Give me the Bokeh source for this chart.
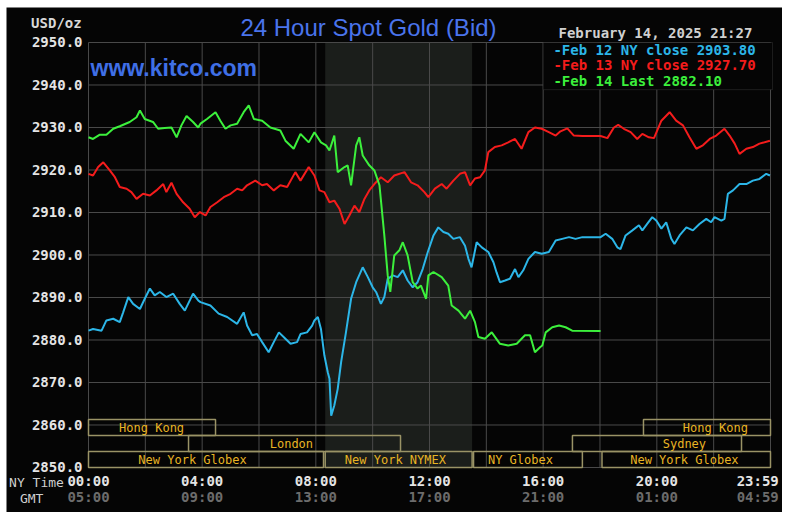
from bokeh.plotting import figure
from bokeh.models import (Range1d, FixedTicker, LinearAxis, PrintfTickFormatter,
                          BoxAnnotation, Label)
from bokeh.core.properties import value
from bokeh.embed import file_html
from bokeh.resources import INLINE

# ---------------- data ----------------
feb12_t = [0.00, 0.16, 0.46, 0.63, 0.87, 1.10, 1.22, 1.40, 1.57, 1.81, 1.98, 2.16, 2.33, 2.51, 2.74, 2.98,
           3.21, 3.39, 3.68, 3.86, 3.94, 4.29, 4.58, 4.88, 5.23, 5.46, 5.58, 5.76, 5.93, 6.11, 6.34, 6.52,
           6.70, 6.93, 7.11, 7.34, 7.46, 7.69, 7.87, 7.95, 8.07, 8.18, 8.30, 8.42, 8.48, 8.54, 8.65, 8.77,
           8.89, 9.06, 9.24, 9.42, 9.65, 9.83, 10.00, 10.12, 10.29, 10.41, 10.53, 10.71, 10.88, 11.06, 11.23,
           11.41, 11.58, 11.76, 11.94, 12.14, 12.31, 12.49, 12.66, 12.84, 13.07, 13.25, 13.37, 13.48, 13.66,
           13.84, 14.07, 14.25, 14.36, 14.48, 14.66, 14.83, 15.01, 15.13, 15.30, 15.48, 15.71, 15.95, 16.20,
           16.44, 16.67, 16.91, 17.14, 17.38, 18.02, 18.20, 18.43, 18.61, 18.72, 18.90, 19.14, 19.37, 19.49,
           19.66, 19.84, 19.98, 20.16, 20.33, 20.51, 20.62, 20.80, 21.04, 21.27, 21.50, 21.74, 21.91, 22.03,
           22.27, 22.38, 22.50, 22.68, 22.91, 23.15, 23.38, 23.61, 23.85, 23.98]
feb12_v = [2882.2, 2882.6, 2882.2, 2884.6, 2885.0, 2884.2, 2886.5, 2890.1, 2888.5, 2887.3, 2889.7, 2892.1,
           2890.5, 2891.3, 2890.1, 2890.9, 2888.5, 2886.9, 2890.9, 2889.3, 2888.9, 2888.1, 2886.2, 2885.4,
           2883.8, 2886.5, 2883.4, 2881.1, 2881.4, 2879.5, 2877.1, 2879.5, 2881.8, 2880.3, 2879.1, 2879.5,
           2881.4, 2881.8, 2883.4, 2884.6, 2885.4, 2882.6, 2876.4, 2872.4, 2870.9, 2862.2, 2864.6, 2868.5,
           2874.8, 2881.8, 2889.7, 2893.6, 2897.1, 2894.8, 2892.4, 2891.3, 2888.5, 2890.1, 2894.4, 2895.2,
           2894.8, 2896.4, 2894.0, 2892.4, 2893.6, 2896.7, 2900.7, 2904.6, 2906.5, 2905.4, 2905.0, 2903.8,
           2904.2, 2902.2, 2899.1, 2897.1, 2903.0, 2901.8, 2900.7, 2898.3, 2895.9, 2893.6, 2894.0, 2894.4,
           2896.7, 2894.8, 2896.4, 2899.1, 2900.7, 2900.3, 2900.7, 2903.4, 2903.8, 2904.2, 2903.8, 2904.2,
           2904.2, 2905.0, 2903.8, 2901.8, 2901.4, 2904.6, 2905.8, 2907.0, 2905.8, 2907.3, 2908.9, 2908.1,
           2906.2, 2907.7, 2903.8, 2902.6, 2904.6, 2906.5, 2905.8, 2907.3, 2908.5, 2907.7, 2908.9, 2908.1,
           2908.5, 2914.4, 2915.2, 2916.7, 2916.7, 2917.5, 2917.9, 2919.1, 2918.7]

feb13_t = [0.00, 0.16, 0.34, 0.52, 0.75, 0.93, 1.10, 1.34, 1.51, 1.69, 1.92, 2.16, 2.39, 2.63, 2.74, 2.92,
           3.10, 3.33, 3.56, 3.74, 3.92, 4.12, 4.29, 4.53, 4.76, 5.00, 5.23, 5.41, 5.58, 5.87, 6.11, 6.28,
           6.52, 6.75, 6.99, 7.28, 7.46, 7.75, 7.95, 8.13, 8.30, 8.48, 8.65, 8.83, 9.01, 9.18, 9.36, 9.53,
           9.71, 9.88, 10.06, 10.29, 10.53, 10.76, 11.12, 11.35, 11.58, 11.82, 11.96, 12.19, 12.43, 12.60,
           12.84, 13.07, 13.25, 13.43, 13.60, 13.78, 13.95, 14.07, 14.30, 14.54, 14.77, 15.01, 15.24, 15.48,
           15.71, 15.95, 16.20, 16.44, 16.61, 16.85, 17.08, 17.38, 18.02, 18.26, 18.49, 18.64, 18.84, 19.08,
           19.31, 19.49, 19.72, 19.90, 20.16, 20.45, 20.68, 20.92, 21.15, 21.39, 21.62, 21.86, 22.09, 22.38,
           22.56, 22.74, 22.91, 23.15, 23.38, 23.61, 23.98]
feb13_v = [2919.1, 2918.7, 2920.7, 2921.8, 2919.9, 2918.3, 2916.0, 2915.6, 2914.8, 2913.2, 2914.4, 2914.0,
           2915.2, 2916.7, 2914.8, 2917.0, 2914.4, 2912.4, 2910.9, 2908.9, 2910.1, 2909.3, 2911.3, 2912.4,
           2913.6, 2914.4, 2915.6, 2915.2, 2916.4, 2917.5, 2916.4, 2916.7, 2915.2, 2916.4, 2916.0, 2919.5,
           2917.5, 2920.7, 2918.7, 2915.2, 2914.8, 2912.4, 2912.8, 2910.9, 2907.3, 2909.3, 2911.6, 2910.1,
           2913.2, 2915.2, 2916.7, 2918.3, 2917.1, 2918.7, 2919.5, 2917.1, 2916.4, 2914.8, 2913.6, 2915.6,
           2916.7, 2915.6, 2917.5, 2919.1, 2919.5, 2916.4, 2918.0, 2918.3, 2919.9, 2924.2, 2925.4, 2925.8,
           2926.5, 2927.3, 2925.0, 2928.9, 2930.0, 2929.7, 2928.9, 2928.1, 2929.1, 2929.8, 2928.1, 2928.0,
           2928.0, 2927.5, 2930.0, 2930.6, 2929.7, 2928.9, 2927.3, 2928.5, 2927.7, 2927.5, 2931.6, 2933.6,
           2931.6, 2930.5, 2927.7, 2925.0, 2925.8, 2927.3, 2928.1, 2929.7, 2928.1, 2926.2, 2923.8, 2925.0,
           2925.4, 2926.2, 2926.9]

feb14_t = [0.00, 0.16, 0.40, 0.63, 0.87, 1.10, 1.45, 1.69, 1.81, 1.98, 2.27, 2.45, 2.68, 2.92, 3.10, 3.27,
           3.45, 3.68, 3.86, 3.94, 4.17, 4.47, 4.64, 4.82, 5.00, 5.23, 5.46, 5.64, 5.82, 6.11, 6.40, 6.75,
           6.93, 7.22, 7.46, 7.75, 7.95, 8.18, 8.36, 8.48, 8.65, 8.77, 9.01, 9.12, 9.24, 9.42, 9.53, 9.65,
           9.88, 10.06, 10.24, 10.41, 10.53, 10.62, 10.76, 10.94, 11.06, 11.23, 11.41, 11.58, 11.70, 11.88,
           11.96, 12.14, 12.43, 12.66, 12.78, 13.02, 13.25, 13.43, 13.60, 13.72, 13.95, 14.19, 14.48, 14.77,
           15.07, 15.36, 15.54, 15.71, 15.89, 15.97, 16.09, 16.32, 16.56, 16.79, 17.02, 18.02]
feb14_v = [2927.7, 2927.3, 2928.3, 2928.3, 2929.7, 2930.3, 2931.3, 2932.4, 2934.0, 2932.0, 2931.3, 2929.7,
           2929.9, 2930.0, 2927.7, 2930.5, 2932.7, 2931.3, 2930.0, 2930.9, 2932.0, 2933.6, 2931.6, 2929.7,
           2930.5, 2930.9, 2933.6, 2935.2, 2932.0, 2931.6, 2930.0, 2929.3, 2926.9, 2925.0, 2928.5, 2926.5,
           2928.9, 2926.5, 2925.8, 2924.6, 2928.1, 2919.5, 2920.7, 2921.1, 2916.4, 2925.8, 2927.7, 2923.4,
           2921.1, 2919.9, 2916.4, 2904.6, 2895.2, 2891.3, 2899.9, 2901.1, 2903.0, 2899.9, 2893.6, 2892.1,
           2892.8, 2889.7, 2895.2, 2896.0, 2894.8, 2892.8, 2888.1, 2886.9, 2885.0, 2886.9, 2884.2, 2880.7,
           2880.3, 2881.8, 2879.1, 2878.7, 2879.1, 2881.1, 2881.1, 2877.1, 2878.3, 2878.7, 2881.8, 2883.0,
           2883.4, 2883.0, 2882.2, 2882.1]

series_labels = ["-Feb 12 NY close 2903.80", "-Feb 13 NY close 2927.70", "-Feb 14 Last 2882.10"]
series_colors = ["#2cb6e8", "#f41c1c", "#3cf03c"]

ny_ticks = [0, 4, 8, 12, 16, 20, 23.55]
ny_labels = ["00:00", "04:00", "08:00", "12:00", "16:00", "20:00", "23:59"]
gmt_labels = ["05:00", "09:00", "13:00", "17:00", "21:00", "01:00", "04:59"]
x_grid = list(range(0, 25, 2))
y_ticks = [2850, 2860, 2870, 2880, 2890, 2900, 2910, 2920, 2930, 2940, 2950]

# sessions: name, start hour, end hour, row (1 = top), label centre hour
sess_names = ["Hong Kong", "Hong Kong", "London", "Sydney", "New York Globex", "New York NYMEX",
              "NY Globex", "New York Globex"]
sess_start = [0.0, 19.53, 3.52, 17.03, 0.0, 8.33, 13.55, 18.07]
sess_end = [4.47, 24.0, 10.98, 22.98, 8.27, 13.5, 17.38, 24.0]
sess_row = [1, 1, 2, 2, 3, 3, 3, 3]
sess_label_x = [2.22, 22.06, 7.14, 20.97, 3.66, 10.8, 15.2, 20.97]
nymex_open, nymex_close = 8.33, 13.5

# ---------------- figure ----------------
BG = "#050505"
GRID = "#4a4a4a"
MONO = "DejaVu Sans Mono"
X0, X1 = 0, 24
Y0, Y1 = 2850, 2950

# frame is the whole black panel; data area (0-24 h, 2850-2950) sits inside it
p = figure(width=782, height=512,
           x_range=Range1d(-2.8856, 24.4223), y_range=Range1d(2839.41, 2958.235),
           output_backend="svg", toolbar_location=None,
           min_border_left=6, min_border_right=0, min_border_top=7, min_border_bottom=0,
           background_fill_color=BG, border_fill_color="white", outline_line_color=None)
p.xgrid.visible = False
p.ygrid.visible = False

# y axis
ya = p.yaxis[0]
ya.fixed_location = X0
ya.ticker = FixedTicker(ticks=y_ticks)
ya.formatter = PrintfTickFormatter(format="%.1f")
ya.major_label_standoff = 6
ya.major_label_text_color = "#e4e4e4"

# x axes (NY time, then GMT)
xa = p.xaxis[0]
xa.fixed_location = Y0
xa.ticker = FixedTicker(ticks=ny_ticks)
xa.major_label_overrides = {t: s for t, s in zip(ny_ticks, ny_labels)}
xa.major_label_standoff = 6
xa.major_label_text_color = "#e4e4e4"
gmt = LinearAxis(ticker=FixedTicker(ticks=ny_ticks), fixed_location=Y0,
                 major_label_overrides={t: s for t, s in zip(ny_ticks, gmt_labels)},
                 major_label_standoff=22, major_label_text_color="#6c6c6c")
p.add_layout(gmt, "below")
for ax in (ya, xa, gmt):
    ax.axis_line_color = None
    ax.major_tick_line_color = None
    ax.minor_tick_line_color = None
    ax.major_tick_out = 0
    ax.minor_tick_out = 0
    ax.major_tick_in = 0
    ax.minor_tick_in = 0
    ax.major_label_text_font = MONO
    ax.major_label_text_font_style = "bold"
    ax.major_label_text_font_size = "14px"

# NYMEX shaded period
p.add_layout(BoxAnnotation(left=nymex_open, right=nymex_close, bottom=Y0, top=Y1,
                           fill_color="#1b1e1b", fill_alpha=1, line_color=None, level="image"))

# grid lines within the data area
p.segment(x0=x_grid, x1=x_grid, y0=[Y0] * len(x_grid), y1=[Y1] * len(x_grid),
          line_color=GRID, line_width=1)
p.segment(x0=[X0] * len(y_ticks), x1=[X1] * len(y_ticks), y0=y_ticks, y1=y_ticks,
          line_color=GRID, line_width=1)

# session boxes
row_h = 3.76
tops = [Y0 + (4 - r) * row_h for r in sess_row]
bots = [t - row_h for t in tops]
p.quad(left=sess_start, right=sess_end, top=tops, bottom=bots, fill_alpha=0,
       line_color="#9a9366", line_width=1.5)
p.text(x=sess_label_x, y=[(t + b) / 2 for t, b in zip(tops, bots)], text=sess_names,
       text_font=value(MONO), text_font_size="12px", text_color="#e8b424",
       text_align="center", text_baseline="middle")

# price lines
for t, v, c in ((feb12_t, feb12_v, series_colors[0]), (feb13_t, feb13_v, series_colors[1]),
                (feb14_t, feb14_v, series_colors[2])):
    p.line(t, v, line_color=c, line_width=2)

# legend box
p.add_layout(BoxAnnotation(left=16.0, right=24.07, top=Y1, bottom=2938.9, fill_color=BG, fill_alpha=1,
                           line_color="#5a5a5a", line_width=1, level="overlay"))
for i, (lab, c) in enumerate(zip(series_labels, series_colors)):
    p.add_layout(Label(x=16.36, y=2948.35 - i * 3.65, text=lab, text_color=c, text_font=MONO,
                       text_font_style="bold", text_font_size="14px", text_baseline="middle",
                       level="overlay"))

# other texts
def lbl(x, y, text, color, size="14px", font=MONO, style="bold", align="left"):
    p.add_layout(Label(x=x, y=y, text=text, text_color=color, text_font=font, text_font_size=size,
                       text_font_style=style, text_align=align, text_baseline="middle",
                       level="overlay"))

lbl(9.853, 2953.53, "24 Hour Spot Gold (Bid)", "#4a74ec", size="24px", font="Liberation Sans",
    style="normal", align="center")
lbl(0.07, 2943.9, "www.kitco.com", "#3f6fe6", size="23px", font="Liberation Sans")
lbl(-1.13, 2954.7, "USD/oz", "#d8d8d8", align="center")
lbl(16.54, 2952.35, "February 14, 2025 21:27", "#d0d0d0")
lbl(-1.83, 2846.45, "NY Time", "#d0d0d0", size="13px", style="normal", align="center")
lbl(-2.0, 2842.7, "GMT", "#d0d0d0", size="13px", style="normal", align="center")

open("out.html", "w").write(file_html(p, INLINE))
